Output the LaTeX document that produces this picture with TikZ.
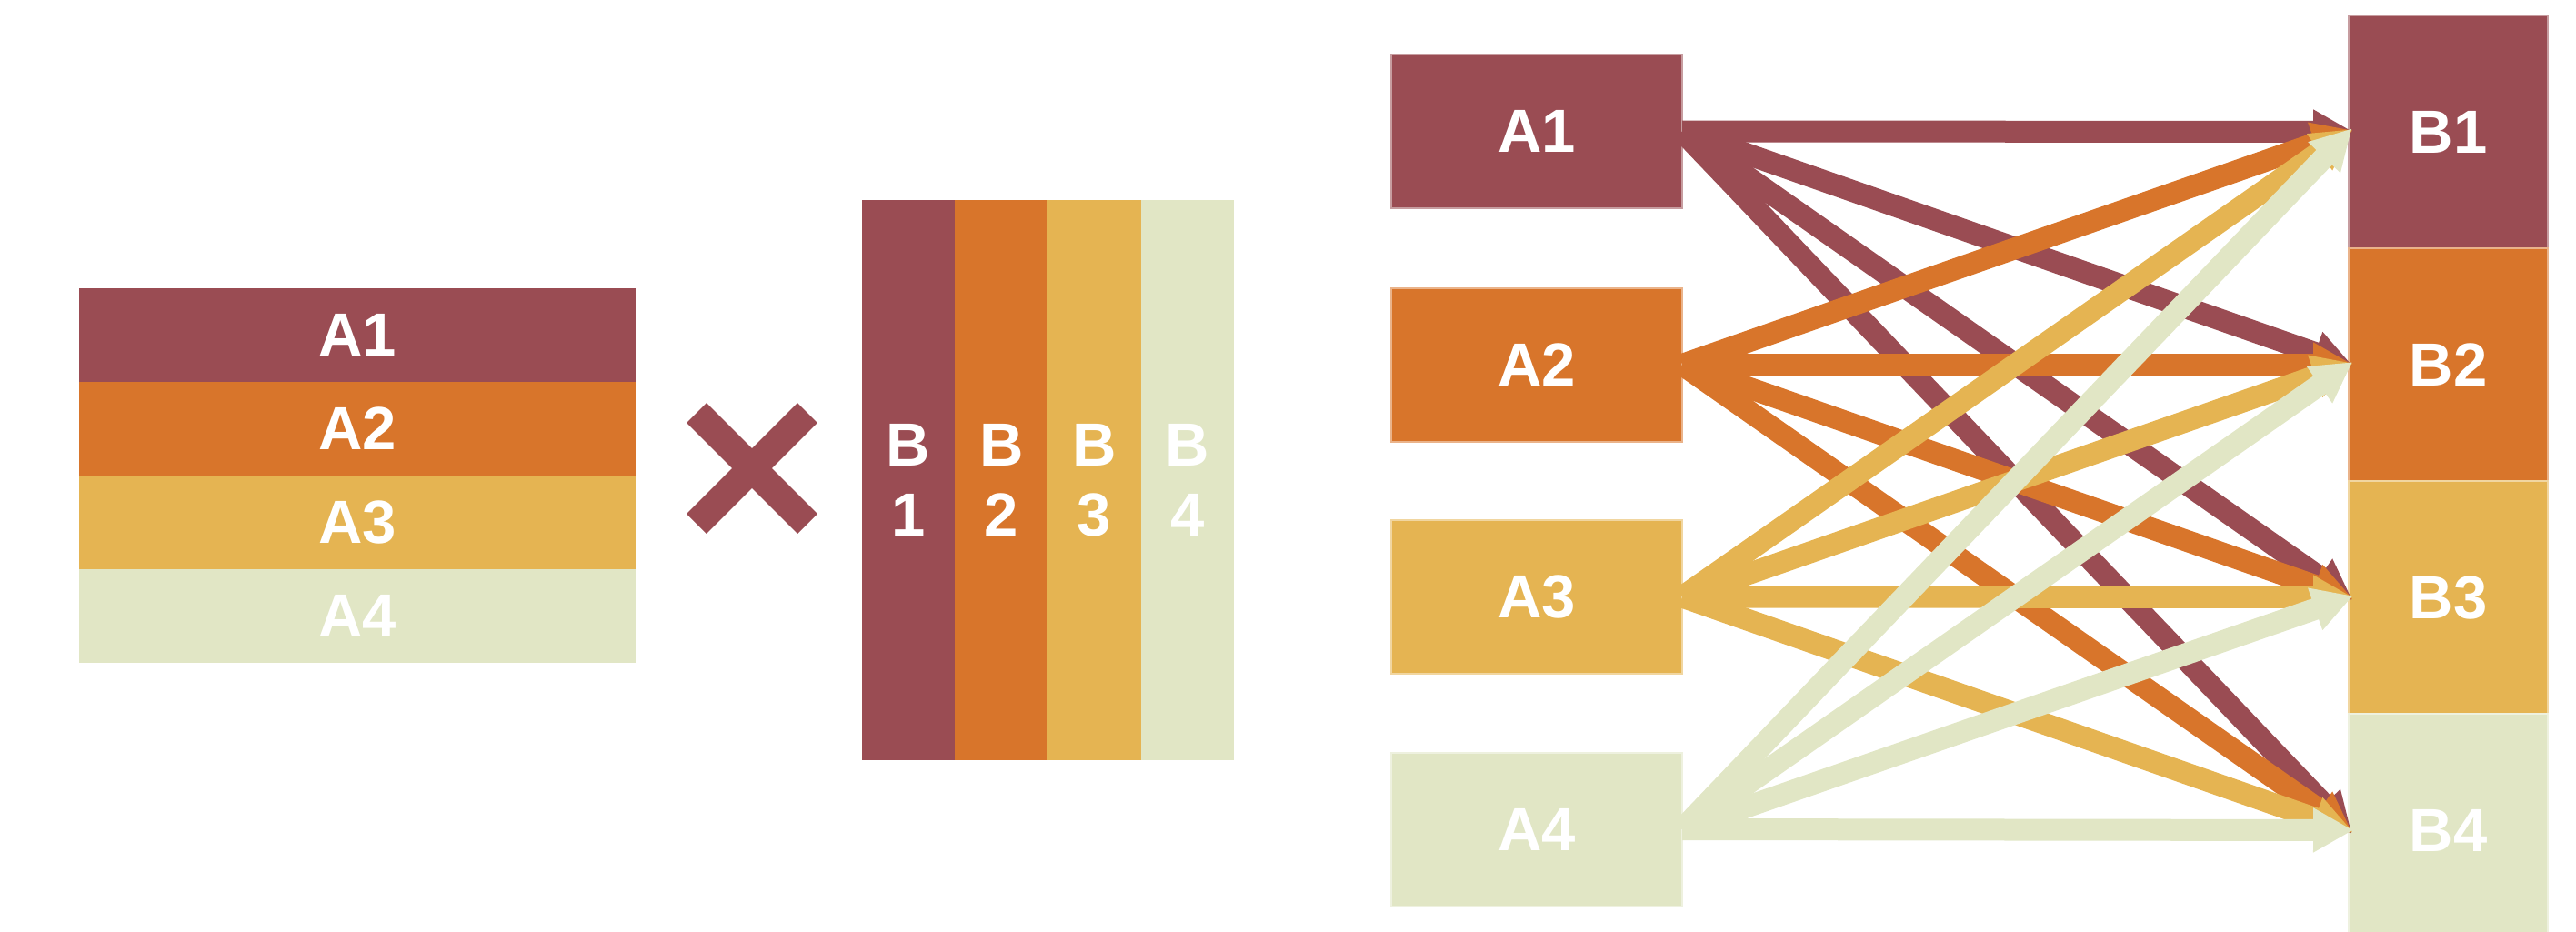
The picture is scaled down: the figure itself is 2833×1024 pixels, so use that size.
\documentclass[tikz,border=0pt]{standalone}
\usepackage{fontspec}
\setmainfont{Liberation Sans}
\newfontfamily\labfam{Liberation Sans Bold}
\usetikzlibrary{arrows.meta}
\definecolor{cA}{RGB}{154,76,83}
\definecolor{cB}{RGB}{216,117,43}
\definecolor{cC}{RGB}{229,180,82}
\definecolor{cD}{RGB}{225,230,197}
\newcommand{\labfont}{\labfam\fontsize{33.5}{38.5}\selectfont}
\begin{document}
\begin{tikzpicture}[x=0.5pt,y=-0.5pt,
 cell/.style={fill=#1, inner sep=0pt, outer sep=0pt, text=white, font=\labfont, align=center},
 tcell/.style={cell=#1, minimum width=306pt, minimum height=51.5pt},
 bcol/.style={cell=#1, minimum width=51.125pt, minimum height=308pt},
 abox/.style={cell=#1, draw=#1!55!white, line width=1pt, minimum width=160pt, minimum height=84.5pt},
 bbox/.style={cell=#1, draw=#1!55!white, line width=1pt, minimum width=109.5pt, minimum height=128pt},
 link/.style={draw=#1, line width=12pt, -{Triangle[length=22pt,width=23pt]}, shorten >=-2.5pt},
 xbar/.style={draw=cA, line width=15.5pt}
]
\clip (0,0) rectangle (2833,1024);

% left table
\node[tcell=cA] (t1) at (393,368.5) {A1};
\node[tcell=cB] (t2) at (393,471.5) {A2};
\node[tcell=cC] (t3) at (393,574.5) {A3};
\node[tcell=cD] (t4) at (393,677.5) {A4};

% multiplication sign
\draw[xbar] (766,454) -- (888,576);
\draw[xbar] (766,576) -- (888,454);

% B columns
\node[bcol=cA] (c1) at (999.1,528) {B\\1};
\node[bcol=cB] (c2) at (1101.4,528) {B\\2};
\node[bcol=cC] (c3) at (1203.6,528) {B\\3};
\node[bcol=cD] (c4) at (1305.9,528) {B\\4};

% right A boxes
\node[abox=cA] (a1) at (1690,144.5) {A1};
\node[abox=cB] (a2) at (1690,401) {A2};
\node[abox=cC] (a3) at (1690,656.5) {A3};
\node[abox=cD] (a4) at (1690,912) {A4};

% right B boxes
\node[bbox=cA] (b1) at (2692.5,145) {B1};
\node[bbox=cB] (b2) at (2692.5,401) {B2};
\node[bbox=cC] (b3) at (2692.5,657) {B3};
\node[bbox=cD] (b4) at (2692.5,913) {B4};

% connectors
\foreach \i/\c in {1/cA,2/cB,3/cC,4/cD}{
  \foreach \j in {1,2,3,4}{
    \draw[link=\c] (a\i.east) -- (b\j.west);
  }
}
\end{tikzpicture}
\end{document}
